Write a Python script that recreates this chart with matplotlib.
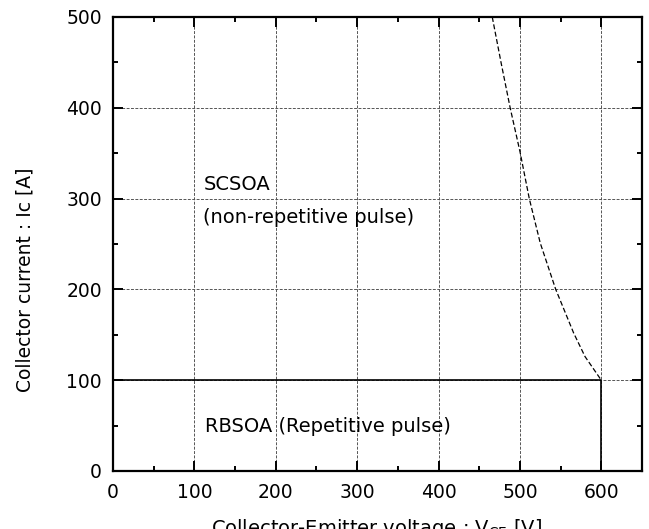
import matplotlib
matplotlib.use('Agg')
import matplotlib.pyplot as plt
from matplotlib.ticker import MultipleLocator

plt.rcParams['font.family'] = ['DejaVu Sans']

# SCSOA boundary (dashed curve)
sc_v = [466, 477, 488, 500, 511.5, 525, 544, 566, 580, 600]
sc_i = [500, 449, 400, 352, 300, 251, 200, 152, 126, 100]

# RBSOA boundary (solid)
rb_v = [0, 600, 600]
rb_i = [100, 100, 0]

x_ticks = [0, 100, 200, 300, 400, 500, 600]
y_ticks = [0, 100, 200, 300, 400, 500]

fig = plt.figure(figsize=(6.49, 5.29), dpi=100)
ax = fig.add_axes([113/649, 1 - 471/529, (642-113)/649, (471-17)/529])

ax.plot(rb_v, rb_i, color='black', lw=1.2, zorder=3)
ax.plot(sc_v, sc_i, color='black', lw=0.9, ls=(0, (4, 2)), zorder=3)

ax.set_xlim(0, 650)
ax.set_ylim(0, 500)
ax.set_xticks(x_ticks)
ax.set_yticks(y_ticks)
ax.xaxis.set_minor_locator(MultipleLocator(50))
ax.yaxis.set_minor_locator(MultipleLocator(50))
ax.tick_params(which='both', direction='in', top=True, right=True, width=1.4)
ax.tick_params(which='major', length=7, labelsize=13.5)
ax.tick_params(which='minor', length=3.5)
ax.tick_params(axis='x', which='major', pad=9)
ax.tick_params(axis='y', which='major', pad=8)
for s in ax.spines.values():
    s.set_linewidth(1.6)

ax.grid(True, which='major', color='#555555', lw=0.7, ls=(0, (3, 1.5)))

ax.text(111, 315, 'SCSOA', fontsize=14, va='center', ha='left')
ax.text(111, 279, '(non-repetitive pulse)', fontsize=14, va='center', ha='left')
ax.text(113, 49, 'RBSOA (Repetitive pulse)', fontsize=14, va='center', ha='left')

fig.text(377/649, (529-517)/529, 'Collector-Emitter voltage : V$_{\\mathregular{CE}}$ [V]',
         fontsize=14, ha='center', va='top')
fig.text(25/649, (529-280)/529, 'Collector current : Ic [A]', fontsize=13.5,
         rotation=90, ha='center', va='center')

fig.savefig('out.png', dpi=100)
